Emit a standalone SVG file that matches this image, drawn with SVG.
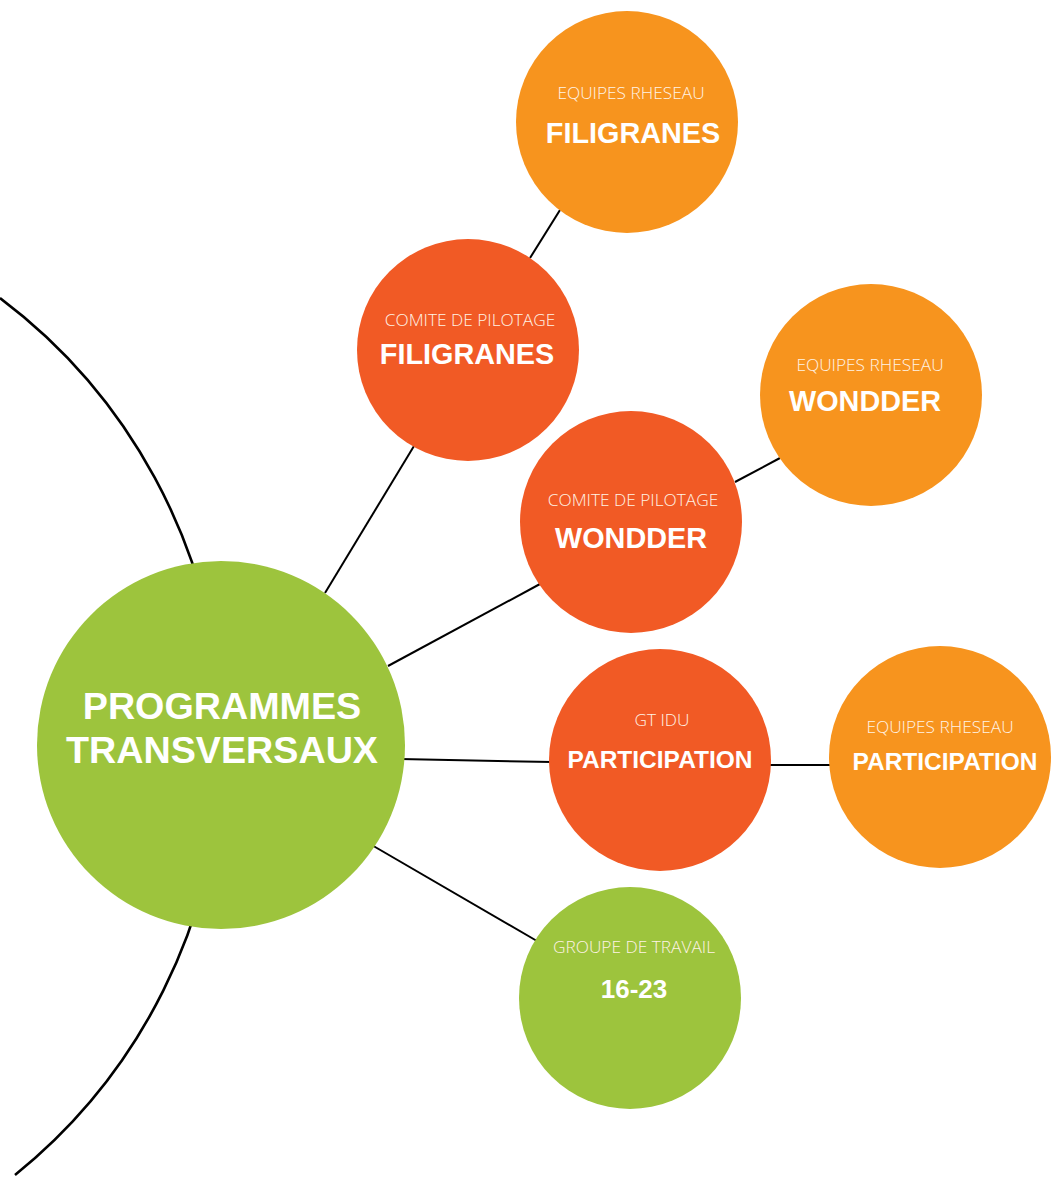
<svg xmlns="http://www.w3.org/2000/svg" width="1057" height="1184" viewBox="0 0 1057 1184">
<style>
.orange{fill:#F7941E}
.red{fill:#F15A25}
.green{fill:#9DC43D}
.sm{font-family:"Open Sans","Liberation Sans",sans-serif;font-weight:300;font-size:17.3px;fill:#FFF3E6;text-anchor:middle}
.bd{font-family:"Liberation Sans",Arial,sans-serif;font-weight:bold;fill:#FFFFFF;text-anchor:middle}
.ln{stroke:#000;stroke-width:2;fill:none}
</style>
<rect width="1057" height="1184" fill="#FFFFFF"/>
<g id="connectors">
<path class="ln" d="M0,298 A556,556 0 0 1 15,1175" style="stroke-width:2.6"/>
<line class="ln" x1="530" y1="258" x2="560" y2="210"/>
<line class="ln" x1="325" y1="593" x2="414" y2="446"/>
<line class="ln" x1="388" y1="666" x2="540" y2="584"/>
<line class="ln" x1="735" y1="482" x2="780" y2="458"/>
<line class="ln" x1="400" y1="759" x2="552" y2="762"/>
<line class="ln" x1="768" y1="765" x2="832" y2="765"/>
<line class="ln" x1="370" y1="844" x2="537" y2="941"/>
</g>
<g id="main">
<circle class="green" cx="221" cy="745" r="184"/>
<text class="bd" x="222" y="719" font-size="37.7">PROGRAMMES</text>
<text class="bd" x="222" y="763" font-size="37.7">TRANSVERSAUX</text>
</g>
<g id="equipes-filigranes">
<circle class="orange" cx="627" cy="122" r="111"/>
<text class="sm" x="631" y="99">EQUIPES RHESEAU</text>
<text class="bd" x="633" y="143" font-size="28.8">FILIGRANES</text>
</g>
<g id="comite-filigranes">
<circle class="red" cx="468" cy="350" r="111"/>
<text class="sm" x="470" y="326">COMITE DE PILOTAGE</text>
<text class="bd" x="467" y="364" font-size="28.8">FILIGRANES</text>
</g>
<g id="equipes-wondder">
<circle class="orange" cx="871" cy="395" r="111"/>
<text class="sm" x="870" y="371">EQUIPES RHESEAU</text>
<text class="bd" x="865" y="411" font-size="28.8">WONDDER</text>
</g>
<g id="comite-wondder">
<circle class="red" cx="631" cy="522" r="111"/>
<text class="sm" x="633" y="506">COMITE DE PILOTAGE</text>
<text class="bd" x="631" y="548" font-size="28.8">WONDDER</text>
</g>
<g id="gt-idu">
<circle class="red" cx="660" cy="760" r="111"/>
<text class="sm" x="662" y="726">GT IDU</text>
<text class="bd" x="660" y="768" font-size="24.5">PARTICIPATION</text>
</g>
<g id="equipes-participation">
<circle class="orange" cx="940" cy="757" r="111"/>
<text class="sm" x="940" y="733">EQUIPES RHESEAU</text>
<text class="bd" x="945" y="770" font-size="24.5">PARTICIPATION</text>
</g>
<g id="groupe-travail">
<circle class="green" cx="630" cy="998" r="111"/>
<text class="sm" x="634" y="953">GROUPE DE TRAVAIL</text>
<text class="bd" x="634" y="998" font-size="26">16-23</text>
</g>
</svg>
